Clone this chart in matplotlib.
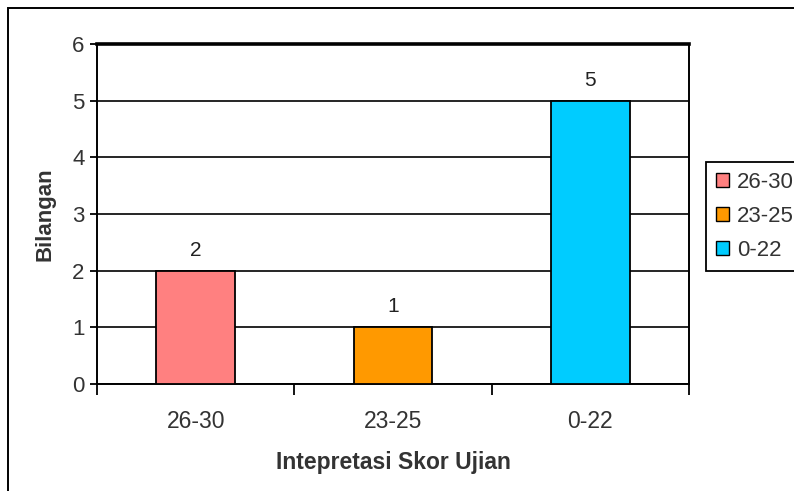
import matplotlib
matplotlib.use("Agg")
import matplotlib.pyplot as plt
from matplotlib.patches import Rectangle

# Score interpretation groups and their counts
categories = ["26-30", "23-25", "0-22"]
counts = [2, 1, 5]
colors = ["#FF8080", "#FF9900", "#00CCFF"]
yticks = [0, 1, 2, 3, 4, 5, 6]

plt.rcParams["font.family"] = ["Liberation Sans", "DejaVu Sans"]

W, H = 794, 491
fig = plt.figure(figsize=(W / 100, H / 100), dpi=100)
ax = fig.add_axes([97 / W, 1 - 384 / H, (689 - 97) / W, (384 - 44) / H])

x = list(range(len(categories)))
bars = ax.bar(x, counts, width=0.4, color=colors, edgecolor="black",
              linewidth=1.3, zorder=3, label=None)

for xi, v in zip(x, counts):
    ax.annotate(str(v), (xi, v), xytext=(0, 8), textcoords="offset points",
                ha="center", va="bottom", fontsize=15, color="#222222")

ax.set_xlim(-0.5, len(categories) - 0.5)
ax.set_ylim(0, 6)
ax.set_yticks(yticks)
ax.set_yticklabels([str(t) for t in yticks], fontsize=16, color="#333333")

# boundary ticks between categories, labels centered in each slot
ax.set_xticks([i - 0.5 for i in range(len(categories) + 1)])
ax.set_xticklabels([])
ax.set_xticks(x, minor=True)
ax.set_xticklabels(categories, minor=True, fontsize=16.5, color="#333333")
ax.tick_params(axis="x", which="major", direction="out", length=8, width=1.3)
ax.tick_params(axis="x", which="minor", length=0, pad=19)
ax.tick_params(axis="y", direction="out", length=5, width=1.3, pad=4)

ax.grid(axis="y", color="black", linewidth=1.2, zorder=0)
for side in ["left", "right", "bottom"]:
    ax.spines[side].set_linewidth(1.4)
ax.spines["top"].set_linewidth(2.6)

ax.set_xlabel("Intepretasi Skor Ujian", fontsize=16.5, fontweight="bold",
              color="#333333", labelpad=13)
ax.set_ylabel("Bilangan", fontsize=16, fontweight="bold", color="#333333",
              labelpad=12)

handles = [Rectangle((0, 0), 1, 1, facecolor=c, edgecolor="black", linewidth=1.0)
           for c in colors]
leg = fig.legend(handles, categories, loc="upper left",
                 bbox_to_anchor=(706 / W, 1 - 162 / H), bbox_transform=fig.transFigure,
                 borderaxespad=0, fancybox=False, edgecolor="black", framealpha=1,
                 fontsize=16, handlelength=0.6, handleheight=0.6, handletextpad=0.35,
                 labelspacing=0.58, borderpad=0.45)
leg.get_frame().set_linewidth(1.3)
for t in leg.get_texts():
    t.set_color("#333333")

# outer chart frame
fig.patches.append(Rectangle((8 / W, -0.2), 2, 1.2 - 8 / H, transform=fig.transFigure,
                             fill=False, edgecolor="black", linewidth=1.4))

fig.savefig("out.png", dpi=100)
